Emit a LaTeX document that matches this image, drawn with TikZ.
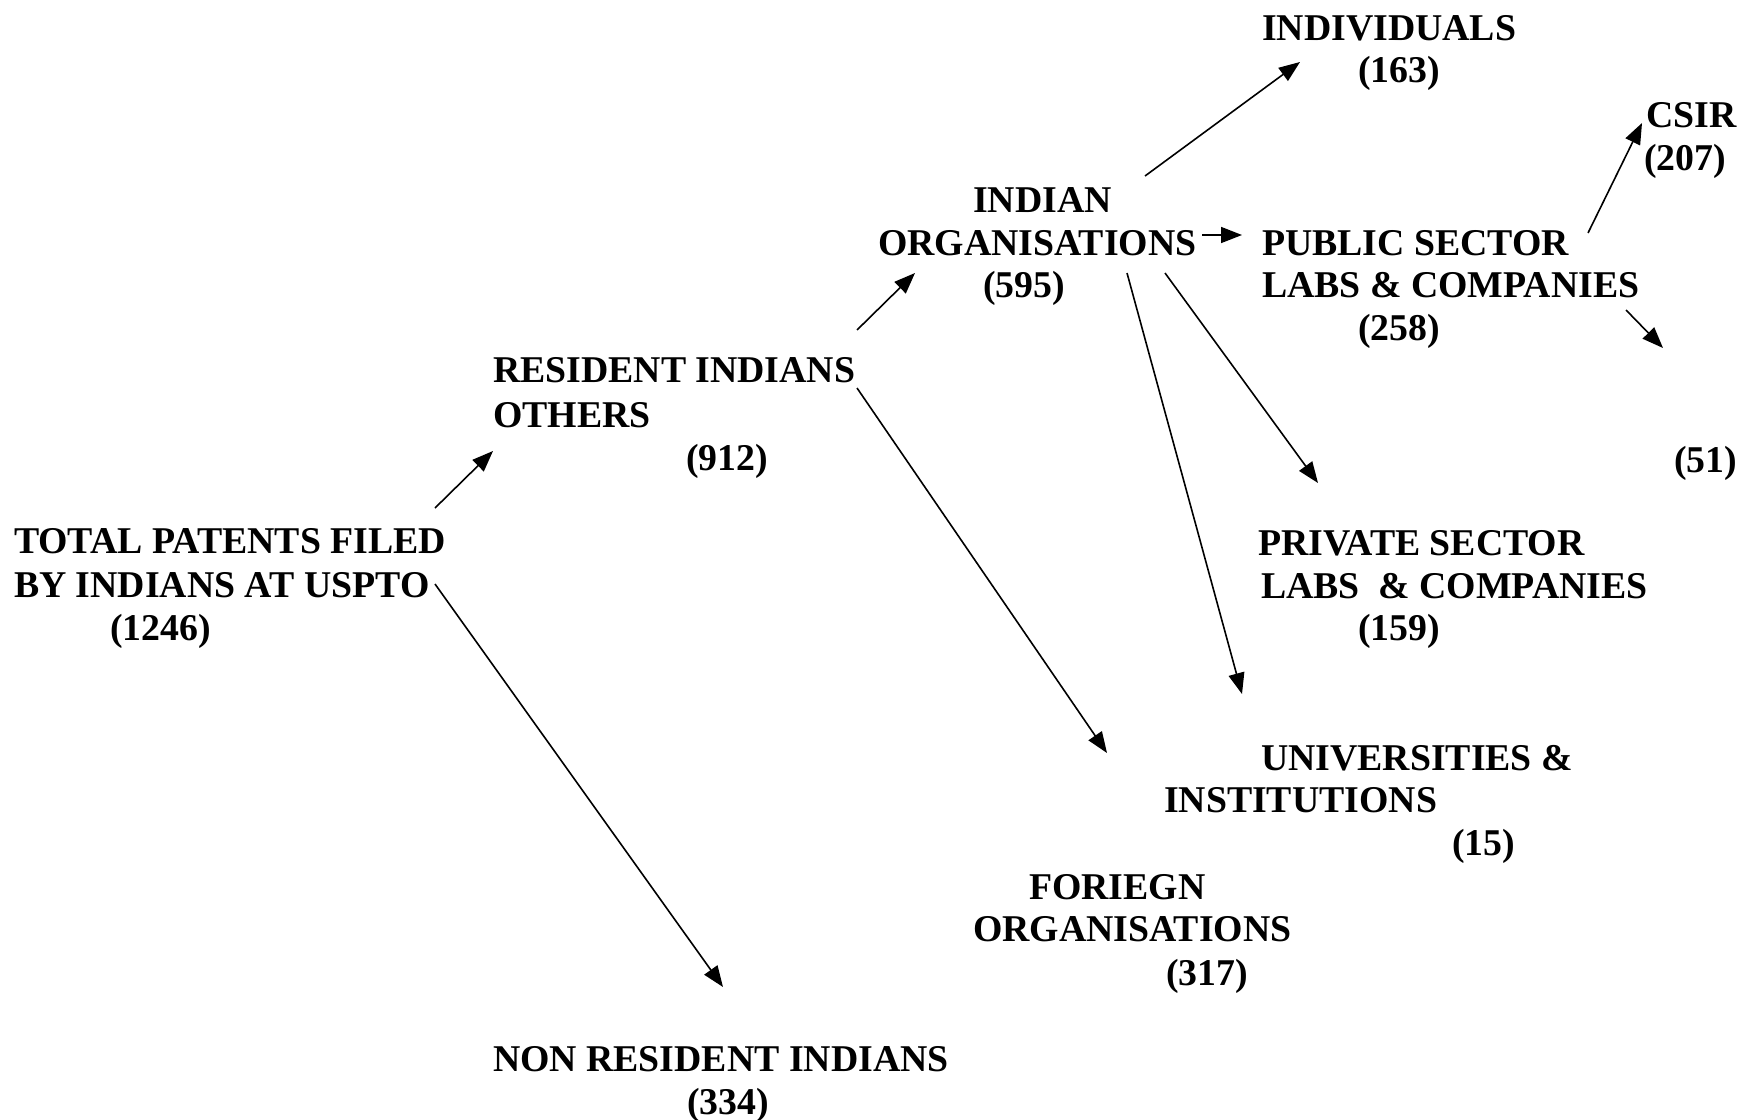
\documentclass[tikz,border=0pt]{standalone}
\usepackage{fontspec}
\setmainfont{Liberation Serif}
\usetikzlibrary{arrows.meta}
\begin{document}
\begin{tikzpicture}[x=0.5pt,y=-0.5pt,
  lbl/.style={anchor=base west,inner sep=0pt,outer sep=0pt,font=\bfseries\fontsize{18.9}{21}\selectfont},
  arr/.style={line width=0.8pt,-{Triangle[length=10.5pt,width=8pt]}}]
\useasboundingbox (0,0) rectangle (1738,1119);
% text lines
\node[lbl] (ind1) at (1262,40) {INDIVIDUALS};
\node[lbl] (ind2) at (1358,82) {(163)};
\node[lbl] (csir1) at (1646,127) {CSIR};
\node[lbl] (csir2) at (1644,170) {(207)};
\node[lbl] (io1) at (973,212) {INDIAN};
\node[lbl] (io2) at (878,255) {ORGANISATIONS};
\node[lbl] (io3) at (983,297) {(595)};
\node[lbl] (pub1) at (1262,255) {PUBLIC SECTOR};
\node[lbl] (pub2) at (1262,297) {LABS \& COMPANIES};
\node[lbl] (pub3) at (1358,340) {(258)};
\node[lbl] (res1) at (493,382) {RESIDENT INDIANS};
\node[lbl] (res2) at (493,427) {OTHERS};
\node[lbl] (res3) at (686,470) {(912)};
\node[lbl] (fif) at (1674,472) {(51)};
\node[lbl] (tot1) at (14,553) {TOTAL PATENTS FILED};
\node[lbl] (tot2) at (14,597) {BY INDIANS AT USPTO};
\node[lbl] (tot3) at (110,640) {(1246)};
\node[lbl] (pri1) at (1258,555) {PRIVATE SECTOR};
\node[lbl] (pri2) at (1261,598) {LABS\ \ \& COMPANIES};
\node[lbl] (pri3) at (1358,640) {(159)};
\node[lbl] (uni1) at (1261,770) {UNIVERSITIES \&};
\node[lbl] (uni2) at (1164,812) {INSTITUTIONS};
\node[lbl] (uni3) at (1452,855) {(15)};
\node[lbl] (for1) at (1029,899) {FORIEGN};
\node[lbl] (for2) at (973,941) {ORGANISATIONS};
\node[lbl] (for3) at (1166,985) {(317)};
\node[lbl] (nri1) at (493,1071) {NON RESIDENT INDIANS};
\node[lbl] (nri2) at (687,1114) {(334)};
% connector end points
\coordinate (a1s) at (435,508);  \coordinate (a1e) at (493,451);
\coordinate (a2s) at (435,584);  \coordinate (a2e) at (723,987);
\coordinate (a3s) at (857,330);  \coordinate (a3e) at (915,273);
\coordinate (a4s) at (857,388);  \coordinate (a4e) at (1107,753);
\coordinate (a5s) at (1145,176); \coordinate (a5e) at (1300,62);
\coordinate (a6s) at (1202,235); \coordinate (a6e) at (1242,235);
\coordinate (a7s) at (1165,273); \coordinate (a7e) at (1318,483);
\coordinate (a8s) at (1127,273); \coordinate (a8e) at (1242,694);
\coordinate (a9s) at (1588,233); \coordinate (a9e) at (1642,123);
\coordinate (a10s) at (1626,310); \coordinate (a10e) at (1663,348);
% connectors
\draw[arr] (a1s) -- (a1e);
\draw[arr] (a2s) -- (a2e);
\draw[arr] (a3s) -- (a3e);
\draw[arr] (a4s) -- (a4e);
\draw[arr] (a5s) -- (a5e);
\draw[arr] (a6s) -- (a6e);
\draw[arr] (a7s) -- (a7e);
\draw[arr] (a8s) -- (a8e);
\draw[arr] (a9s) -- (a9e);
\draw[arr] (a10s) -- (a10e);
\end{tikzpicture}
\end{document}
